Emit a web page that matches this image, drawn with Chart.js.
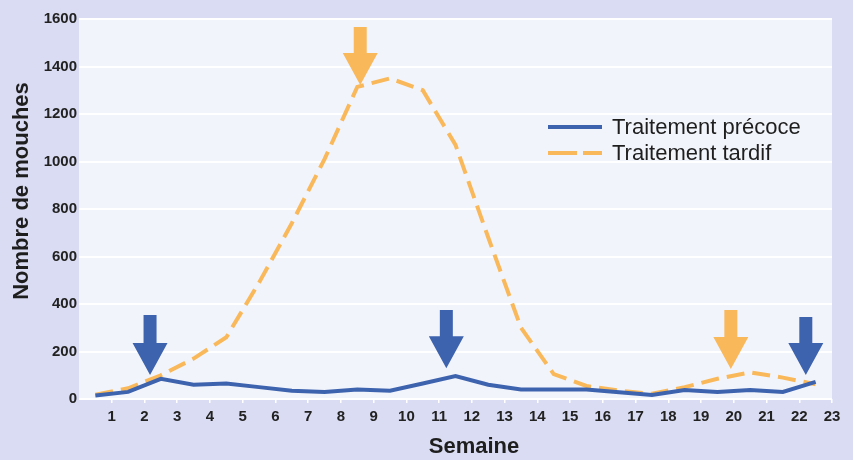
<!DOCTYPE html>
<html>
<head>
<meta charset="utf-8">
<script src="https://cdn.jsdelivr.net/npm/chart.js@4.4.1/dist/chart.umd.min.js"></script>
<style>
  html, body { margin: 0; padding: 0; background: #d9dcf2; }
  #wrap { width: 853px; height: 460px; }
</style>
</head>
<body>
<div id="wrap"><canvas id="grafico"></canvas></div>
<script>
// semaines (points au milieu de chaque semaine)
var semaines = [0.5, 1.5, 2.5, 3.5, 4.5, 5.5, 6.5, 7.5, 8.5, 9.5, 10.5, 11.5,
                12.5, 13.5, 14.5, 15.5, 16.5, 17.5, 18.5, 19.5, 20.5, 21.5, 22.5];
var precoce = [15, 30, 85, 60, 65, 50, 35, 30, 40, 35, 65, 97,
               60, 40, 40, 40, 28, 17, 38, 30, 38, 30, 72];
var tardif = [18, 45, 100, 170, 260, 490, 740, 1010, 1314, 1350, 1300, 1070,
              680, 300, 105, 55, 35, 22, 50, 85, 112, 90, 62];
var ticksX = [1, 2, 3, 4, 5, 6, 7, 8, 9, 10, 11, 12, 13, 14, 15, 16, 17, 18, 19, 20, 21, 22, 23];
var ticksY = [0, 200, 400, 600, 800, 1000, 1200, 1400, 1600];

// fleches de traitement: semaine, haut, pointe, serie (0 = precoce, 1 = tardif)
var flecheSemaine = [2.17, 11.22, 22.2, 8.59, 19.91];
var flecheHaut = [354, 375, 345, 1566, 375];
var flechePointe = [101, 130, 101, 1322, 126];
var flecheSerie = [0, 0, 0, 1, 1];

var bleu = '#3e63ae';
var orange = '#f9b95b';
var police = "'Liberation Sans', Arial, sans-serif";

function pontos(ys) {
  return semaines.map(function (s, i) { return { x: s, y: ys[i] }; });
}

var extras = {
  id: 'extras',
  beforeDraw: function (chart) {
    var a = chart.chartArea, ctx = chart.ctx;
    ctx.save();
    ctx.fillStyle = '#f2f4fb';
    ctx.fillRect(a.left, a.top, a.right - a.left, a.bottom - a.top);
    ctx.restore();
  },
  afterDatasetsDraw: function (chart) {
    var ctx = chart.ctx, sx = chart.scales.x, sy = chart.scales.y;
    ctx.save();
    // fleches
    for (var i = 0; i < flecheSemaine.length; i++) {
      var x = sx.getPixelForValue(flecheSemaine[i]);
      var yTop = sy.getPixelForValue(flecheHaut[i]);
      var yTip = sy.getPixelForValue(flechePointe[i]);
      var yHead = yTip - 32;
      ctx.fillStyle = chart.data.datasets[flecheSerie[i]].borderColor;
      ctx.beginPath();
      ctx.moveTo(x - 6.5, yTop);
      ctx.lineTo(x + 6.5, yTop);
      ctx.lineTo(x + 6.5, yHead);
      ctx.lineTo(x + 17.5, yHead);
      ctx.lineTo(x, yTip);
      ctx.lineTo(x - 17.5, yHead);
      ctx.lineTo(x - 6.5, yHead);
      ctx.closePath();
      ctx.fill();
    }
    // legende
    ctx.font = '22px ' + police;
    ctx.textBaseline = 'middle';
    ctx.fillStyle = '#1e1e1e';
    chart.data.datasets.forEach(function (ds, k) {
      var y = 127 + k * 26;
      ctx.strokeStyle = ds.borderColor;
      ctx.lineWidth = 4;
      ctx.setLineDash(k == 1 ? [29, 6] : []);
      ctx.beginPath();
      ctx.moveTo(548, y);
      ctx.lineTo(602, y);
      ctx.stroke();
      ctx.fillText(ds.label, 612, y + 1);
    });
    ctx.setLineDash([]);
    // titres des axes
    ctx.font = 'bold 22px ' + police;
    ctx.textAlign = 'center';
    ctx.fillText('Semaine', 474, 447);
    ctx.translate(22, 191);
    ctx.rotate(-Math.PI / 2);
    ctx.fillText('Nombre de mouches', 0, 0);
    ctx.restore();
  }
};

var ctx1 = document.getElementById('grafico').getContext('2d');
var grafico = new Chart(ctx1, {
  type: 'line',
  data: {
    datasets: [{
      label: 'Traitement précoce',
      data: pontos(precoce),
      borderColor: bleu,
      borderWidth: 4
    },
    {
      label: 'Traitement tardif',
      data: pontos(tardif),
      borderColor: orange,
      borderWidth: 4,
      borderDash: [18, 8]
    }]
  },
  options: {
    responsive: true,
    maintainAspectRatio: false,
    animation: false,
    layout: { padding: { top: 19, right: 21, left: 0, bottom: 0 } },
    elements: { point: { radius: 0 }, line: { tension: 0 } },
    plugins: { legend: { display: false }, tooltip: { enabled: false } },
    scales: {
      x: {
        type: 'linear',
        min: 0,
        max: 23,
        afterBuildTicks: function (axis) { axis.ticks = ticksX.map(function (v) { return { value: v }; }); },
        afterFit: function (axis) { axis.height = 61; },
        grid: { drawOnChartArea: false, color: '#ffffff', tickLength: 4, lineWidth: 1.5 },
        border: { display: false },
        ticks: { color: '#222', padding: 5, maxRotation: 0, autoSkip: false,
                 callback: function (v) { return String(v); },
                 font: { family: police, weight: 'bold', size: 15 } }
      },
      y: {
        min: 0,
        max: 1600,
        afterBuildTicks: function (axis) { axis.ticks = ticksY.map(function (v) { return { value: v }; }); },
        afterFit: function (axis) { axis.width = 79; },
        grid: { color: '#ffffff', lineWidth: 2, drawTicks: false },
        border: { display: false },
        ticks: { color: '#222', padding: 2,
                 callback: function (v) { return String(v); },
                 font: { family: police, weight: 'bold', size: 15 } }
      }
    }
  },
  plugins: [extras]
});
</script>
</body>
</html>
